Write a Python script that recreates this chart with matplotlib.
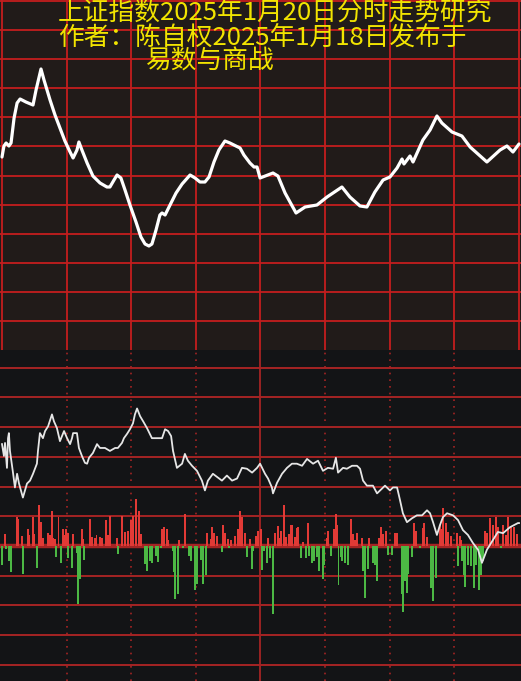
import numpy as np
import matplotlib
matplotlib.use("Agg")
import matplotlib.pyplot as plt

# ---- data ----
# top panel: index level by minute (0..240)
top_min = [0, 0.9, 1.9, 3.2, 4.2, 5.6, 7.0, 8.4, 11.1, 14.4, 15.8, 18.1, 19.5, 22.3, 24.6,
           26.9, 29.2, 31.6, 33.0, 34.8, 35.7, 37.1, 39.5, 42.2, 45.5, 48.7, 50.1, 52.0,
           53.4, 55.2, 57.1, 59.4, 62.2, 64.5, 66.4, 68.2, 69.6, 71.5, 73.3, 74.3, 75.7,
           78.0, 80.8, 83.6, 87.3, 89.6, 91.9, 94.2, 96.1, 98.4, 100.7, 103.5, 105.8,
           108.6, 110.5, 112.3, 115.1, 117.0, 118.4, 119.8, 125.8, 128.1, 131.4, 136.5,
           140.7, 146.2, 150.9, 157.8, 161.5, 166.2, 169.4, 173.1, 176.9, 180.1, 183.4,
           185.7, 186.6, 189.4, 190.8, 195.4, 198.7, 201.9, 204.2, 208.9, 213.5, 217.3,
           225.1, 231.2, 234.4, 237.2, 240.0]
top_level = [3252.9, 3256.2, 3257.1, 3256.2, 3257.1, 3264.6, 3269.1, 3270.3, 3269.4, 3268.5,
             3273.0, 3279.3, 3276.0, 3270.0, 3265.5, 3261.6, 3257.7, 3254.4, 3252.6, 3255.0,
             3257.4, 3255.0, 3251.1, 3247.2, 3245.1, 3243.9, 3243.9, 3246.0, 3247.5, 3246.6,
             3243.0, 3238.5, 3233.4, 3228.9, 3226.8, 3226.2, 3226.8, 3231.0, 3235.5, 3236.1,
             3235.5, 3238.5, 3242.1, 3244.8, 3247.5, 3246.6, 3245.4, 3245.4, 3246.9, 3251.4,
             3255.0, 3257.7, 3257.1, 3256.2, 3255.6, 3253.5, 3251.1, 3249.9, 3249.9, 3246.6,
             3248.1, 3247.2, 3242.1, 3236.1, 3237.9, 3238.5, 3240.9, 3243.9, 3240.9, 3238.2,
             3237.9, 3242.4, 3246.0, 3246.9, 3249.6, 3252.3, 3250.8, 3253.2, 3251.4, 3258.0,
             3261.0, 3265.2, 3263.1, 3260.4, 3259.2, 3255.9, 3251.4, 3255.0, 3256.2, 3254.4,
             3256.8]

# bottom panel: white line
low_min = [0, 0.9, 1.4, 2.3, 2.8, 3.2, 3.7, 5.1, 6.0, 7.0, 7.9, 9.7, 11.6, 13.0, 14.4, 16.2,
           16.7, 17.6, 19.0, 20.0, 21.4, 23.2, 24.1, 25.5, 26.9, 28.8, 30.2, 31.6, 32.5, 33.0,
           34.8, 35.7, 37.1, 38.5, 39.5, 40.4, 42.2, 44.1, 45.5, 47.8, 50.1, 52.5, 53.8, 55.7,
           56.6, 58.0, 59.4, 60.8, 61.7, 62.7, 64.1, 65.5, 67.3, 69.6, 72.0, 74.3, 75.7, 77.1,
           78.5, 79.4, 81.2, 83.6, 84.9, 86.3, 88.2, 90.5, 92.8, 94.2, 95.6, 97.9, 100.3,
           102.1, 104.4, 106.8, 109.1, 111.4, 113.7, 116.1, 118.4, 119.8, 122.1, 123.5, 125.3,
           125.8, 127.7, 130.0, 132.3, 134.6, 136.9, 139.3, 141.6, 144.4, 146.7, 149.0, 151.3,
           153.7, 155.0, 156.0, 158.3, 160.1, 162.5, 164.8, 166.2, 167.6, 169.4, 172.2, 174.1,
           176.4, 177.8, 180.1, 181.5, 183.4, 184.8, 186.1, 188.0, 190.3, 192.6, 195.0, 197.3,
           198.7, 200.1, 201.9, 203.3, 204.7, 206.6, 209.4, 211.7, 214.0, 216.3, 218.6, 221.0,
           222.8, 225.1, 227.9, 230.2, 232.6, 235.8, 239.5, 240.0]
low_val = [34.3, 30.3, 34.7, 26.3, 36.3, 38.0, 32.0, 24.7, 19.7, 24.3, 21.0, 16.3, 21.0, 22.0,
           24.3, 27.7, 32.0, 38.0, 36.3, 38.7, 40.3, 44.3, 42.0, 39.7, 35.3, 38.7, 36.3, 34.3,
           36.3, 38.0, 38.0, 33.0, 30.3, 28.0, 27.7, 29.7, 31.3, 34.3, 33.0, 33.0, 32.0, 33.0,
           33.0, 34.7, 36.3, 37.7, 39.3, 41.3, 44.3, 46.3, 43.7, 42.0, 39.7, 36.3, 36.3, 36.3,
           39.3, 38.7, 37.0, 32.0, 26.3, 27.7, 31.0, 28.7, 27.0, 25.3, 22.0, 18.7, 22.0, 24.3,
           23.0, 22.0, 23.7, 22.0, 22.7, 26.3, 26.0, 24.7, 26.3, 27.7, 24.3, 22.7, 19.7, 17.7,
           21.3, 24.3, 26.3, 27.7, 27.7, 27.0, 29.3, 27.7, 28.7, 25.3, 26.3, 26.0, 29.7, 24.7,
           26.3, 26.0, 27.0, 27.0, 26.0, 22.0, 20.3, 20.3, 17.7, 19.3, 20.3, 18.7, 19.7, 19.7,
           15.3, 11.0, 8.0, 9.3, 10.3, 10.3, 12.0, 11.0, 8.0, 3.7, 7.0, 9.7, 11.0, 10.3, 8.7,
           5.3, 3.7, 1.0, -1.3, -5.7, -1.3, 2.0, 4.7, 4.3, 6.3, 7.7, 7.7]

# bottom panel: red (up) bars
up_min = [1.4, 6.8, 7.6, 9.1, 11.9, 12.7, 14.2, 15.0, 17.2, 18.0, 19.2, 21.5, 22.3, 23.1, 23.8,
          24.6, 26.2, 28.2, 28.9, 29.7, 30.5, 33.1, 37.0, 37.8, 40.9, 41.6, 43.2, 43.9, 45.5,
          46.3, 48.3, 49.3, 50.1, 53.2, 55.6, 57.1, 58.6, 59.9, 60.7, 62.1, 63.6, 64.4, 74.4,
          75.2, 76.5, 77.2, 82.3, 84.9, 95.3, 96.9, 97.6, 98.4, 99.9, 102.4, 103.5, 105.1,
          106.2, 108.2, 109.7, 110.5, 111.3, 112.8, 115.1, 117.9, 119.0, 120.2, 123.6, 126.7,
          128.0, 128.7, 129.5, 130.9, 131.7, 133.4, 134.0, 134.8, 136.0, 136.8, 137.5, 139.6,
          141.9, 150.7, 151.5, 154.1, 154.9, 155.5, 161.9, 162.8, 163.9, 164.9, 167.0, 170.5,
          175.1, 175.8, 176.7, 178.3, 182.4, 183.5, 191.3, 192.0, 195.3, 196.0, 197.4, 203.3,
          204.1, 204.9, 206.1, 207.2, 208.3, 211.1, 212.6, 213.0, 224.2, 225.3, 226.5, 227.8,
          229.3, 230.4, 232.7, 234.0, 235.0, 236.1, 237.7, 239.2]
up_val = [3.9, 9.8, 9.2, 3.3, 5.6, 3.7, 9.8, 3.9, 13.9, 8.1, 2.6, 4.4, 3.7, 11.7, 2.8, 2.2, 9.8,
          5.6, 3.7, 5.6, 4.4, 3.9, 5.6, 2.2, 9.2, 3.1, 2.8, 3.7, 3.1, 2.6, 8.7, 3.7, 10.0, 2.8,
          10.0, 4.8, 5.0, 8.7, 10.0, 15.9, 11.7, 3.9, 5.6, 6.4, 5.6, 2.0, 2.0, 10.6, 4.4, 2.2,
          6.4, 4.4, 3.3, 7.0, 4.4, 2.2, 2.0, 3.3, 5.6, 11.7, 9.8, 4.4, 2.2, 3.3, 5.0, 5.6, 2.6,
          4.4, 6.7, 2.6, 5.0, 13.9, 3.1, 3.9, 7.0, 7.0, 3.1, 6.1, 6.4, 1.4, 7.6, 2.6, 5.0, 5.6,
          10.6, 7.0, 9.2, 3.9, 2.0, 4.4, 2.8, 2.6, 2.6, 6.4, 3.9, 5.0, 4.4, 4.4, 7.6, 5.0, 5.9,
          7.8, 3.1, 7.2, 5.6, 12.8, 7.8, 4.8, 3.3, 4.4, 3.3, 2.0, 5.0, 4.2, 9.4, 7.2, 9.8, 6.4,
          7.0, 3.7, 9.8, 6.4, 6.4, 3.9]

# bottom panel: green (down) bars
dn_min = [0, 1.9, 3.4, 4.2, 9.9, 16.4, 25.1, 27.4, 30.8, 32.4, 34.7, 35.4, 36.2, 38.2, 54.0,
          66.4, 67.2, 68.7, 69.5, 71.5, 72.3, 73.8, 79.2, 80.0, 80.3, 81.8, 83.9, 87.0, 87.7,
          89.6, 90.4, 92.4, 93.2, 94.7, 102.0, 105.5, 113.6, 115.9, 116.7, 120.6, 121.6,
          122.9, 124.4, 125.9, 138.8, 141.1, 142.7, 144.0, 144.8, 146.4, 147.3, 148.9, 149.6,
          152.7, 156.2, 157.2, 158.0, 159.2, 160.8, 167.7, 168.5, 169.8, 172.4, 173.2, 173.9,
          179.0, 180.9, 185.5, 186.3, 187.1, 188.2, 188.6, 190.2, 194.0, 199.0, 200.2, 201.5,
          211.8, 213.4, 214.5, 214.9, 216.5, 217.6, 219.1, 220.0, 221.6, 222.2, 223.1, 231.5]
dn_val = [-6.3, -1.1, -5.2, -8.8, -9.4, -7.4, -3.6, -5.8, -4.1, -7.4, -2.4, -19.7, -11.3, -4.7,
          -2.7, -6.1, -8.6, -5.0, -5.8, -3.3, -5.4, -0.8, -1.7, -8.8, -18.0, -16.3, -0.8, -3.3,
          -5.0, -14.7, -12.8, -4.7, -12.8, -9.9, -2.2, -0.8, -3.8, -7.8, -1.7, -8.0, -1.7, -5.8,
          -4.1, -23.0, -3.9, -3.9, -3.3, -5.8, -5.0, -3.6, -8.3, -11.1, -6.3, -3.3, -13.0, -3.6,
          -5.0, -5.8, -6.3, -8.6, -17.4, -7.8, -5.8, -6.3, -11.9, -3.0, -3.0, -16.3, -22.4,
          -11.9, -15.8, -9.4, -3.6, -0.6, -14.1, -18.6, -10.8, -6.7, -5.0, -9.7, -13.9, -6.3,
          -6.9, -14.1, -6.3, -15.0, -9.7, -5.2, -0.6]

title_lines = ["上证指数2025年1月20日分时走势研究",
               "作者：陈自权2025年1月18日发布于",
               "易数与商战"]

grid_red = "#c41e1e"
low_red = "#a52424"
cjk = ["Noto Sans CJK SC", "DejaVu Sans"]


def bare(ax, bg):
    # keep the background patch, drop ticks and frame
    ax.set_facecolor(bg)
    ax.set_xticks([])
    ax.set_yticks([])
    for s in ax.spines.values():
        s.set_visible(False)


fig = plt.figure(figsize=(5.21, 6.81), dpi=100)
fig.patch.set_facecolor("#131416")

xlim = (-0.93, 240.93)

# ---- top panel ----
ax1 = fig.add_axes([0, 1 - 350 / 681, 1, 350 / 681])
bare(ax1, "#211b19")
ax1.set_xlim(*xlim)
ax1.set_ylim(3195, 3300)
for y in np.linspace(3299.7, 3195, 13)[:-1]:
    ax1.axhline(y, color=grid_red, lw=1.3, zorder=1)
for x in range(0, 241, 30):
    ax1.axvline(x, color=grid_red, lw=1.3, zorder=1)
ax1.plot(top_min, top_level, color="white", lw=2.3, solid_joinstyle="round",
         solid_capstyle="round", zorder=3)

# ---- bottom panel ----
ax2 = fig.add_axes([0, 0, 1, 331 / 681])
bare(ax2, "#131416")
ax2.set_xlim(*xlim)
ax2.set_ylim(-45.5, 66)
for y in range(-40, 61, 10):
    ax2.axhline(y, color=low_red, lw=3.2 if y == 0 else 1.4, zorder=1)
for x in [30, 60, 90, 150, 180, 210]:
    ax2.axvline(x, color=low_red, lw=1.2, ls=(0, (1, 3)), zorder=1)
ax2.axvline(120, color=low_red, lw=1.3, zorder=1)
ax2.bar(up_min, up_val, width=0.85, color="#e23a36", zorder=2)
ax2.bar(dn_min, dn_val, width=0.85, color="#4cb844", zorder=2)
ax2.plot(low_min, low_val, color="#e6e6e6", lw=1.3, zorder=3)

# ---- title text ----
for txt, x, y in zip(title_lines, [58, 58, 145], [13, 38, 62]):
    fig.text(x / 521, 1 - y / 681, txt, color="#f2e400", fontsize=18.5,
             family=cjk, ha="left", va="center")

fig.savefig("out.png", dpi=100, facecolor=fig.get_facecolor())
